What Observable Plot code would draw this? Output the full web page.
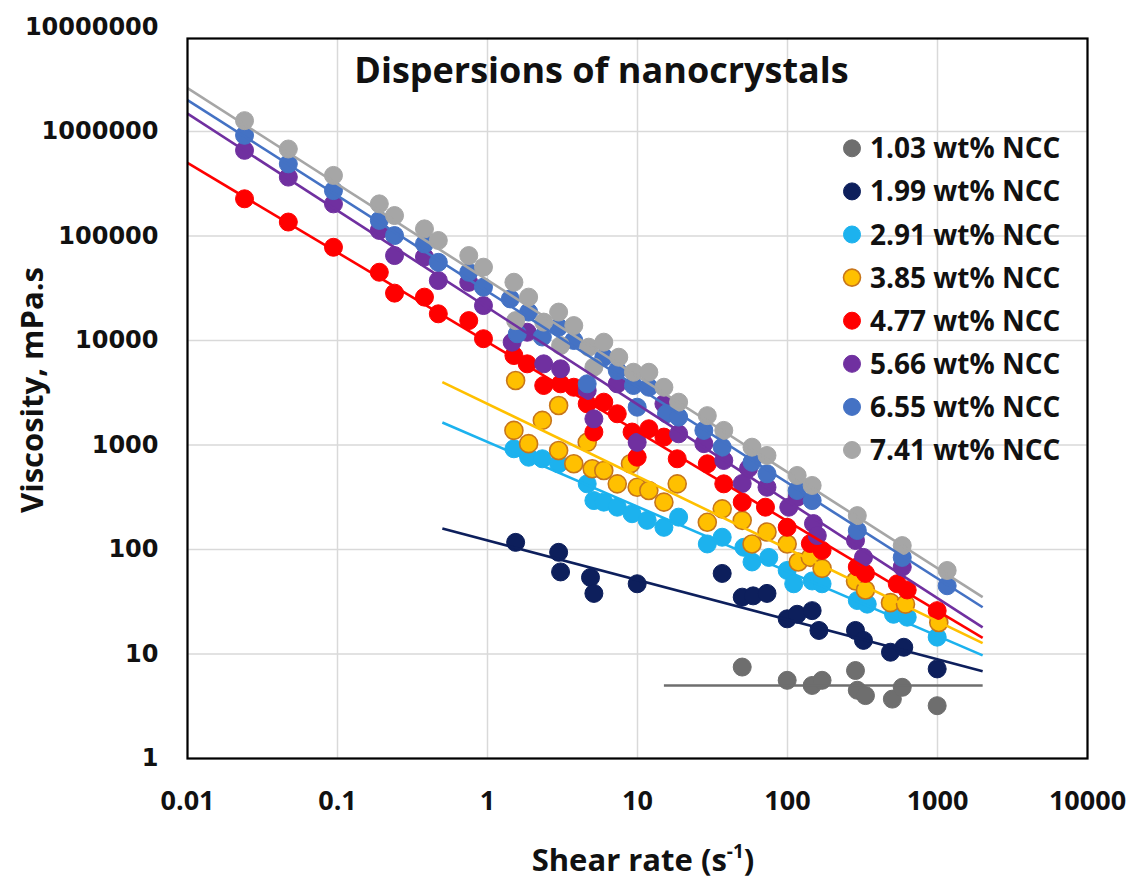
<!DOCTYPE html>
<html><head><meta charset="utf-8">
<script src="https://cdn.jsdelivr.net/npm/d3@7"></script>
<script src="https://cdn.jsdelivr.net/npm/@observablehq/plot@0.6"></script>
<style>
body{margin:0;background:#fff;}
#wrap{position:relative;width:1128px;height:883px;overflow:hidden;background:#fff;}
#wrap svg{position:absolute;left:0;top:0;}
</style></head><body><div id="wrap"></div>
<script>
// ---- data ----
const seriesNames = ["1.03 wt% NCC","1.99 wt% NCC","2.91 wt% NCC","3.85 wt% NCC","4.77 wt% NCC","5.66 wt% NCC","6.55 wt% NCC","7.41 wt% NCC"];
const seriesFill   = ["#6e6e6e","#0d1f5c","#1cb2ee","#ffc000","#ff0000","#7030a0","#4472c4","#a6a6a6"];
const seriesStroke = ["#6e6e6e","#0d1f5c","#1cb2ee","#c8761a","#ff0000","#7030a0","#4472c4","#a6a6a6"];
const lineColor    = ["#6e6e6e","#0d1f5c","#1cb2ee","#ffc000","#ff0000","#7030a0","#4472c4","#a6a6a6"];

const xTicks = [0.01, 0.1, 1, 10, 100, 1000, 10000];
const yTicks = [1, 10, 100, 1000, 10000, 100000, 1000000, 10000000];

const rate103 = [49.9,99.5,146,170,284,292,331,500,582,995];
const visc103 = [7.5,5.6,5.0,5.6,6.95,4.5,4.0,3.7,4.8,3.2];

const rate199 = [1.54,2.98,3.07,4.86,5.12,9.95,36.7,49.9,59,73,99.5,116,146,162,284,321,486,596,995];
const visc199 = [117,94,61,54,38,47,59,35,36,38,21.7,24,26,16.8,16.8,13.5,10.4,11.6,7.2];

const rate291 = [1.5,1.88,2.32,2.98,4.62,5.12,5.96,7.33,9.2,11.6,15.0,18.8,29.2,36.7,51.2,58,75,99.5,110,146,170,292,340,509,628,995];
const visc291 = [920,764,738,661,425,294,284,254,220,190,163,204,113,131,105,76,84,63,47,50,47,32.5,30,24,22.5,14.5];

const rate385 = [1.54,1.5,1.88,2.32,2.98,2.98,3.76,4.62,4.99,5.96,7.33,8.98,9.95,11.9,15.0,18.4,29.2,36.7,49.9,58,73,99.5,118,142,170,284,331,486,612,1020];
const visc385 = [4140,1380,1030,1720,2390,885,661,1060,592,570,425,661,394,367,284,425,182,245,190,113,147,113,76,84,66,50,41,31,30,20];

const rate477 = [0.024,0.047,0.094,0.19,0.24,0.38,0.47,0.75,0.94,1.5,1.84,2.37,3.07,3.76,4.62,5.12,5.96,7.33,9.2,9.95,11.9,15.0,18.4,29.2,37.6,49.9,71.3,99.5,142,170,292,331,539,628,995];
const visc477 = [227000,136000,78000,45000,28400,26000,18000,15500,10400,7180,5980,3710,3850,3570,2480,1330,2570,1990,1330,764,1430,1190,738,661,425,284,254,163,114,98,68,59,47,41,26];

const rate566 = [0.024,0.047,0.094,0.19,0.24,0.38,0.47,0.75,0.94,1.46,1.84,2.37,3.07,4.62,5.12,7.33,9.95,15.0,18.8,27.7,37.6,49.9,55,73,102,116,149,158,284,321,582];
const visc566 = [660000,366000,203000,113000,65000,63000,37500,36000,21600,9640,12000,5980,5360,3320,1780,3850,1060,2480,1280,1030,711,428,596,394,254,316,177,136,122,84,68];

const rate655 = [0.024,0.047,0.094,0.19,0.24,0.38,0.47,0.75,0.94,1.42,1.58,1.88,2.32,2.98,3.76,4.62,5.96,7.33,9.4,9.95,11.9,15.6,18.8,27.7,36.7,58,73,116,146,292,582,1160];
const visc655 = [920000,490000,272000,141000,101000,84000,56000,45000,32400,25000,11600,18700,10800,13400,10000,3850,6920,5160,3710,2300,3570,1990,1850,1380,953,684,530,367,294,152,84,45];

const rate741 = [0.024,0.047,0.094,0.19,0.24,0.38,0.47,0.75,0.94,1.5,1.54,1.88,2.37,2.98,3.07,3.76,4.73,5.12,5.96,7.5,9.4,11.9,15.0,18.8,29.2,37.6,58,73,116,146,292,582,1160];
const visc741 = [1270000,680000,380000,203000,157000,117000,90600,65000,50300,36100,15500,26000,15000,18700,8950,13900,8630,5560,9640,6920,4970,4970,3570,2570,1910,1380,953,794,511,410,211,109,63];

// power-law trend lines: start and end points
const fitStartRate = [15, 0.5, 0.5, 0.5, 0.01, 0.01, 0.01, 0.01];
const fitStartVisc = [5.0, 159, 1640, 4000, 500000, 1480000, 2000000, 2600000];
const fitEndRate   = [2000, 2000, 2000, 2000, 2000, 2000, 2000, 2000];
const fitEndVisc   = [5.0, 6.85, 9.7, 12.7, 14.3, 18, 28, 35];

// ---- build tables ----
const rates = [rate103, rate199, rate291, rate385, rate477, rate566, rate655, rate741];
const viscs = [visc103, visc199, visc291, visc385, visc477, visc566, visc655, visc741];
const seriesData = rates.map((r, s) => r.map((x, i) => ({series: seriesNames[s], rate: x, visc: viscs[s][i]})));
const fits = seriesNames.map((n, s) => ({series: n, x1: fitStartRate[s], y1: fitStartVisc[s], x2: fitEndRate[s], y2: fitEndVisc[s]}));

// geometry
const W = 1128, H = 883, mL = 187, mR = 41, mT = 38, mB = 125;
const decadePx = 104.5;
const yTop = Math.pow(10, (H - mB - mT) / decadePx);

const marks = [
  Plot.gridX(xTicks, {stroke: "#d9d9d9", strokeOpacity: 1, strokeWidth: 1.5}),
  Plot.gridY(yTicks.filter(v => v < yTop), {stroke: "#d9d9d9", strokeOpacity: 1, strokeWidth: 1.5})
];
seriesData.forEach((d, s) => {
  marks.push(Plot.dot(d, {x: "rate", y: "visc", r: 9, fill: seriesFill[s], fillOpacity: 1,
    stroke: seriesStroke[s], strokeWidth: s === 3 ? 1.6 : 1}));
});
fits.forEach((f, s) => {
  marks.push(Plot.link([f], {x1: "x1", y1: "y1", x2: "x2", y2: "y2", stroke: lineColor[s], strokeWidth: 2.6}));
});
marks.push(
  Plot.frame({stroke: "#000", strokeWidth: 2.2}),
  Plot.axisX(xTicks, {tickSize: 0, tickPadding: 32, tickFormat: d => String(d), label: null,
    fontSize: 27, fontFamily: "Open Sans", fontWeight: "bold", fill: "#111"}),
  Plot.axisY(yTicks, {tickSize: 0, tickPadding: 29, tickFormat: d => String(d), label: null,
    fontSize: 24, fontFamily: "DejaVu Sans", fontWeight: "bold", fill: "#111"})
);

const chart = Plot.plot({
  width: W, height: H,
  marginLeft: mL, marginRight: mR, marginTop: mT, marginBottom: mB,
  x: {type: "log", domain: [0.01, 10000]},
  y: {type: "log", domain: [1, yTop]},
  style: {background: "transparent", color: "#111"},
  marks
});
const wrap = document.getElementById("wrap");
wrap.appendChild(chart);

// ---- overlay: title, axis titles, legend ----
const ov = d3.select(wrap).append("svg").attr("width", W).attr("height", H)
  .style("pointer-events", "none");
const font = "'Open Sans', 'DejaVu Sans', sans-serif";

ov.append("text").attr("x", 601.5).attr("y", 83.3).attr("text-anchor", "middle")
  .style("font-family", font).style("font-weight", "bold").style("font-size", "36px").attr("fill", "#111")
  .text("Dispersions of nanocrystals");

ov.append("text").attr("transform", "translate(43,390) rotate(-90)").attr("text-anchor", "middle")
  .style("font-family", font).style("font-weight", "bold").style("font-size", "31px").attr("fill", "#111")
  .text("Viscosity, mPa.s");

const xl = ov.append("text").attr("x", 643).attr("y", 871).attr("text-anchor", "middle")
  .style("font-family", font).style("font-weight", "bold").style("font-size", "31px").attr("fill", "#111");
xl.append("tspan").text("Shear rate (s");
xl.append("tspan").attr("dy", -13).style("font-size", "19px").text("-1");
xl.append("tspan").attr("dy", 13).text(")");

const leg = ov.append("g");
seriesNames.forEach((n, s) => {
  const cy = 148.3 + s * 43.1;
  leg.append("circle").attr("cx", 852).attr("cy", cy).attr("r", 8.5)
    .attr("fill", seriesFill[s]).attr("stroke", seriesStroke[s]).attr("stroke-width", s === 3 ? 1.6 : 1);
  leg.append("text").attr("x", 870).attr("y", cy + 10)
    .style("font-family", font).style("font-weight", "bold").style("font-size", "28px").attr("fill", "#111")
    .text(n);
});
</script></body></html>
